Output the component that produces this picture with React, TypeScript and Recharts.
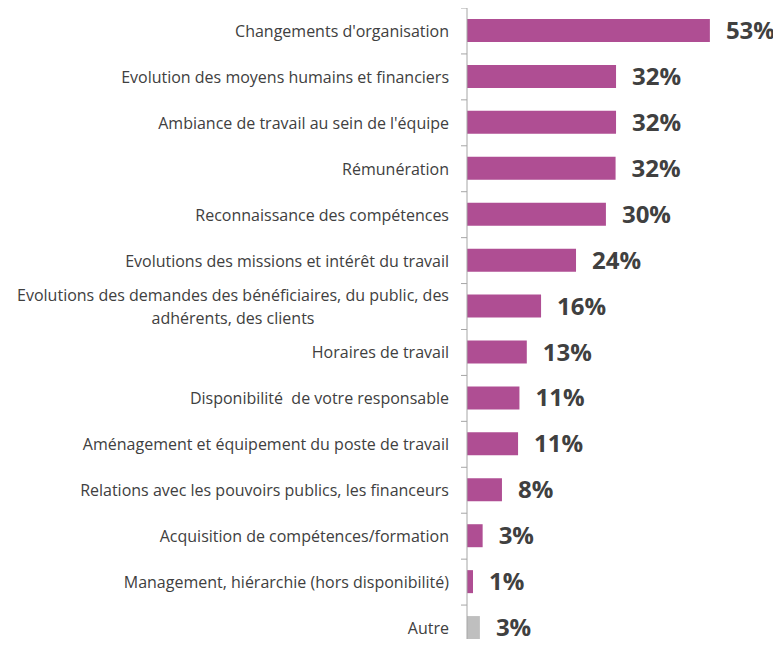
import React from "react";
import { BarChart, Bar, XAxis, YAxis, Cell, LabelList } from "recharts";

const categories: string[][] = [
  ["Changements d'organisation"],
  ["Evolution des moyens humains et financiers"],
  ["Ambiance de travail au sein de l'équipe"],
  ["Rémunération"],
  ["Reconnaissance des compétences"],
  ["Evolutions des missions et intérêt du travail"],
  ["Evolutions des demandes des bénéficiaires, du public, des", "adhérents, des clients"],
  ["Horaires de travail"],
  ["Disponibilité  de votre responsable"],
  ["Aménagement et équipement du poste de travail"],
  ["Relations avec les pouvoirs publics, les financeurs"],
  ["Acquisition de compétences/formation"],
  ["Management, hiérarchie (hors disponibilité)"],
  ["Autre"],
];
const values: number[] = [52.8, 32.4, 32.4, 32.3, 30.2, 23.7, 16.1, 13.0, 11.4, 11.1, 7.6, 3.4, 1.3, 2.8];
const isOther: boolean[] = [false, false, false, false, false, false, false, false, false, false, false, false, false, true];

const data = categories.map((lines, i) => ({
  name: String(i),
  lines,
  value: values[i],
  other: isOther[i],
}));

const W = 773;
const H = 643;
const AXIS_W = 459;
const BAND = H / categories.length;
const FONT = "'Open Sans', sans-serif";
const CAT_SIZE = 16;

function measure(text: string): number {
  try {
    const c = document.createElement("canvas").getContext("2d");
    if (!c) return text.length * 7.8;
    c.font = `${CAT_SIZE}px ${FONT}`;
    return c.measureText(text).width;
  } catch (e) {
    return text.length * 7.8;
  }
}

const CatTick = (props: any) => {
  const { y, payload, index } = props;
  const d = data[Number(payload.value)];
  const axisX = AXIS_W;
  const textX = axisX - 18;
  const tickY = y - BAND / 2;
  let textEls: React.ReactNode;
  if (d.lines.length === 1) {
    textEls = (
      <text x={textX} y={y} textAnchor="end" dominantBaseline="central" fontSize={CAT_SIZE} fill="#404040" fontFamily={FONT} style={{ whiteSpace: "pre" }}>
        {d.lines[0]}
      </text>
    );
  } else {
    const widths = d.lines.map(measure);
    const maxW = Math.max(...widths);
    const cx = textX - maxW / 2;
    const lh = 23;
    const y0 = y - ((d.lines.length - 1) * lh) / 2;
    textEls = d.lines.map((l: string, k: number) => (
      <text key={k} x={cx} y={y0 + k * lh} textAnchor="middle" dominantBaseline="central" fontSize={CAT_SIZE} fill="#404040" fontFamily={FONT} style={{ whiteSpace: "pre" }}>
        {l}
      </text>
    ));
  }
  return (
    <g>
      <line x1={axisX - 6} x2={axisX} y1={tickY} y2={tickY} stroke="#a6a6a6" strokeWidth={1} />
      {index === categories.length - 1 ? (
        <line x1={axisX - 6} x2={axisX} y1={y + BAND / 2} y2={y + BAND / 2} stroke="#a6a6a6" strokeWidth={1} />
      ) : null}
      {textEls}
    </g>
  );
};

export default function App() {
  return (
    <div style={{ width: W, height: 639, overflow: "hidden", marginBottom: -8 }}>
      <BarChart
        width={W}
        height={H}
        data={data}
        layout="vertical"
        margin={{ top: 0, right: 38, bottom: 0, left: 0 }}
        barCategoryGap="50%"
      >
        <XAxis type="number" hide domain={[0, 60]} />
        <YAxis
          type="category"
          dataKey="name"
          width={AXIS_W}
          tickLine={false}
          axisLine={{ stroke: "#a6a6a6" }}
          tick={<CatTick />}
          interval={0}
        />
        <Bar dataKey="value" isAnimationActive={false} barSize={23}>
          {data.map((d, i) => (
            <Cell key={i} fill={d.other ? "#bfbfbf" : "#af4e93"} />
          ))}
          <LabelList
            dataKey="value"
            position="right"
            offset={16}
            formatter={(v: any) => `${Math.round(Number(v))}%`}
            style={{ fontSize: 24, fontWeight: 700, fill: "#404040", fontFamily: FONT }}
          />
        </Bar>
      </BarChart>
    </div>
  );
}
